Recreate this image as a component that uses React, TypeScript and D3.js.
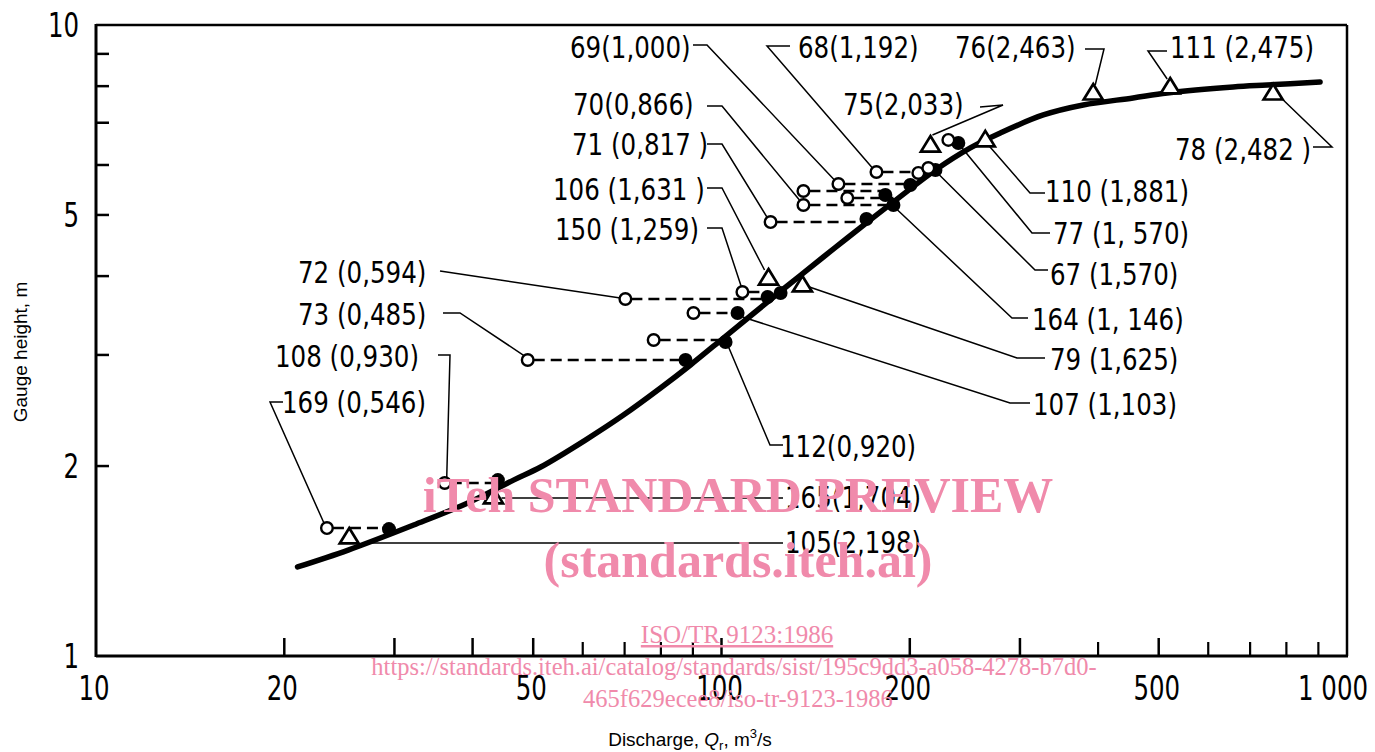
import React from "react"
import * as d3 from "d3"

// Stage–discharge relation (log–log)
const curveQ = [21.0, 25.3, 32.2, 39.3, 46.5, 51.4, 60.6, 69.7, 79.9, 89.2, 100.7, 111.2, 125.6, 145.5, 158.9, 188.3, 219.8, 249.9, 279.1, 326.9, 378.7, 455.0, 515.9, 657.6, 745.2, 905.6]
const curveH = [1.384, 1.472, 1.613, 1.748, 1.900, 1.993, 2.199, 2.409, 2.659, 2.892, 3.191, 3.458, 3.816, 4.289, 4.597, 5.243, 5.891, 6.386, 6.744, 7.201, 7.468, 7.662, 7.803, 7.976, 8.035, 8.123]

// open circles
const openQ = [23.4, 36.1, 49.0, 77.9, 90.2, 70.2, 108.0, 119.8, 135.2, 135.2, 153.8, 158.9, 176.9, 206.4, 214.1, 230.5]
const openH = [1.595, 1.880, 2.945, 3.168, 3.496, 3.679, 3.774, 4.872, 5.185, 5.457, 5.598, 5.319, 5.848, 5.828, 5.934, 6.575]

// filled circles
const filledQ = [29.4, 43.9, 87.6, 101.5, 106.1, 118.5, 124.3, 170.5, 188.3, 182.8, 200.4, 219.8, 239.1]
const filledH = [1.589, 1.900, 2.945, 3.145, 3.496, 3.707, 3.760, 4.926, 5.185, 5.378, 5.578, 5.891, 6.502]

// open triangles
const triQ = [25.4, 43.2, 118.9, 134.7, 215.8, 264.1, 392.9, 521.6, 761.9]
const triH = [1.544, 1.787, 3.972, 3.873, 6.453, 6.575, 7.803, 7.976, 7.803]

// dashed links: [open index, filled index]
const dashPairs = [[0, 0], [1, 1], [2, 2], [3, 3], [4, 4], [5, 5], [6, 5], [7, 7], [8, 8], [9, 9], [10, 10], [11, 8], [12, 11]]

const xTickMajor = [20, 30, 40, 50, 100, 200, 300, 500]
const xTickMinor = [60, 70, 80, 90, 400, 600, 700, 800, 900]
const xTickLabels = [10, 20, 50, 100, 200, 500, 1000]
const yTicks = [2, 3, 4, 5, 6, 7, 8, 9]
const yTickLabels = [1, 2, 5, 10]

// annotation layout: label text, text anchor point, leader elbow points, target marker
const labels = [
  { text: "69(1,000)", x: 570, y: 58, pts: [[693, 45], [707, 45]], kind: "open", i: 10, dx: -4, dy: -4 },
  { text: "68(1,192)", x: 798, y: 58, pts: [[790, 46], [767, 46]], kind: "open", i: 12, dx: -4, dy: -4 },
  { text: "76(2,463)", x: 955, y: 58, pts: [[1085, 49], [1104, 49]], kind: "tri", i: 6, dx: 2, dy: -8 },
  { text: "111 (2,475)", x: 1170, y: 58, pts: [[1167, 51], [1148, 51]], kind: "tri", i: 7, dx: -3, dy: -8 },
  { text: "70(0,866)", x: 573, y: 115, pts: [[707, 106], [722, 106]], kind: "open", i: 8, dx: -4, dy: -5 },
  { text: "75(2,033)", x: 843, y: 115, pts: [[980, 107], [1003, 105]], kind: "tri", i: 4, dx: 2, dy: -10 },
  { text: "71 (0,817 )", x: 572, y: 155, pts: [[707, 144], [722, 144]], kind: "open", i: 7, dx: -3, dy: -4 },
  { text: "78 (2,482 )", x: 1175, y: 160, pts: [[1313, 147], [1332, 147]], kind: "tri", i: 8, dx: 7, dy: 4 },
  { text: "106 (1,631 )", x: 553, y: 200, pts: [[707, 188], [722, 188]], kind: "tri", i: 2, dx: -4, dy: -8 },
  { text: "110 (1,881)", x: 1045, y: 202, pts: [[1045, 193], [1030, 193]], kind: "tri", i: 5, dx: 3, dy: 5 },
  { text: "150 (1,259)", x: 555, y: 240, pts: [[707, 228], [722, 228]], kind: "open", i: 6, dx: -1, dy: -5 },
  { text: "77 (1, 570)", x: 1053, y: 244, pts: [[1050, 233], [1032, 233]], kind: "filled", i: 12, dx: 3, dy: 4 },
  { text: "67 (1,570)", x: 1050, y: 285, pts: [[1048, 270], [1035, 270]], kind: "filled", i: 11, dx: 3, dy: 4 },
  { text: "72 (0,594)", x: 298, y: 283, pts: [[440, 271]], kind: "open", i: 5, dx: -5, dy: -1 },
  { text: "164 (1, 146)", x: 1032, y: 330, pts: [[1028, 318], [1012, 318]], kind: "filled", i: 8, dx: 2, dy: 3 },
  { text: "73 (0,485)", x: 298, y: 325, pts: [[443, 313], [460, 313]], kind: "open", i: 2, dx: -3, dy: -4 },
  { text: "79 (1,625)", x: 1050, y: 370, pts: [[1045, 358], [1017, 358]], kind: "tri", i: 3, dx: 7, dy: 2 },
  { text: "108 (0,930)", x: 275, y: 367, pts: [[438, 355], [450, 355]], kind: "open", i: 1, dx: 2, dy: -5 },
  { text: "107 (1,103)", x: 1033, y: 415, pts: [[1030, 403], [1010, 403]], kind: "filled", i: 4, dx: 5, dy: 4 },
  { text: "169 (0,546)", x: 282, y: 413, pts: [[283, 402], [270, 402]], kind: "open", i: 0, dx: -3, dy: -5 },
  { text: "112(0,920)", x: 780, y: 457, pts: [[783, 445], [770, 445]], kind: "filled", i: 3, dx: 3, dy: 5 },
  { text: "165(1,704)", x: 785, y: 508, pts: [[783, 498]], kind: "tri", i: 1, dx: 8, dy: 1 },
  { text: "105(2,198)", x: 785, y: 553, pts: [[783, 543]], kind: "tri", i: 0, dx: 15, dy: 6 },
]

const NARROW = "'DejaVu Sans Condensed', 'DejaVu Sans', sans-serif"
const PINK = "#f08aab"
const SQUEEZE = 0.88

export default function App() {
  const x = d3.scaleLog().domain([10, 1000]).range([96, 1347])
  const y = d3.scaleLog().domain([1, 10]).range([656, 25])

  const curvePath = d3.line<number>()
    .x((_, i) => x(curveQ[i]))
    .y((_, i) => y(curveH[i]))
    .curve(d3.curveCatmullRom.alpha(0.5))(curveQ)

  const markerPos = (kind: string, i: number) => {
    if (kind === "open") return [x(openQ[i]), y(openH[i])]
    if (kind === "filled") return [x(filledQ[i]), y(filledH[i])]
    return [x(triQ[i]), y(triH[i])]
  }

  const tri = (cx: number, cy: number) =>
    `M${cx},${cy - 9} L${cx + 9.5},${cy + 6.5} L${cx - 9.5},${cy + 6.5} Z`

  const [x0, x1] = x.range()
  const [y0, y1] = y.range()

  return (
    <svg width={1375} height={752} style={{ position: "absolute", left: 0, top: 0, background: "#fff" }}>
      {/* frame */}
      <line x1={x0} x2={x1} y1={y1} y2={y1} stroke="#000" strokeWidth={2.5} />
      <line x1={x1} x2={x1} y1={y1} y2={y0} stroke="#000" strokeWidth={2.5} />
      <line x1={x0} x2={x1 + 1} y1={y0} y2={y0} stroke="#000" strokeWidth={3} />
      <line x1={x0} x2={x0} y1={y1 - 1} y2={y0 + 1} stroke="#000" strokeWidth={3} />

      {/* ticks */}
      {xTickMajor.map(t => <line key={"xM" + t} x1={x(t)} x2={x(t)} y1={y0} y2={y0 - 18} stroke="#000" strokeWidth={2.5} />)}
      {xTickMinor.map(t => <line key={"xm" + t} x1={x(t)} x2={x(t)} y1={y0} y2={y0 - 14} stroke="#000" strokeWidth={2.2} />)}
      {yTicks.map(t => <line key={"y" + t} x1={x0} x2={x0 + 13} y1={y(t)} y2={y(t)} stroke="#000" strokeWidth={2.5} />)}

      <g fontFamily={NARROW} fontSize={34} fill="#000">
        {xTickLabels.map(t => (
          <text key={"xl" + t} transform={`translate(${x(t) - (t === 1000 ? 14 : 2)},700) scale(0.8,1)`} textAnchor="middle">
            {t === 1000 ? "1 000" : t}
          </text>
        ))}
        {yTickLabels.map(t => (
          <text key={"yl" + t} transform={`translate(79,${y(t) + 12}) scale(0.8,1)`} textAnchor="end">{t}</text>
        ))}
      </g>

      {/* axis titles */}
      <text x={690} y={746} textAnchor="middle" fontFamily="'Liberation Sans', Arial, sans-serif" fontSize={19}>
        Discharge, <tspan fontStyle="italic">Q</tspan><tspan fontSize={13} dy={4}>r</tspan>
        <tspan dy={-4}>, m</tspan><tspan fontSize={13} dy={-8}>3</tspan><tspan dy={8}>/s</tspan>
      </text>
      <text transform="translate(27,352) rotate(-90)" textAnchor="middle" fontFamily="'Liberation Sans', Arial, sans-serif" fontSize={19}>
        Gauge height, m
      </text>

      {/* rating curve */}
      <path d={curvePath ?? ""} fill="none" stroke="#000" strokeWidth={5.5} strokeLinecap="round" />

      {/* leader lines */}
      {labels.map((l, k) => {
        const [mx, my] = markerPos(l.kind, l.i)
        const pts = [...l.pts, [mx + l.dx, my + l.dy]]
        return <polyline key={"ld" + k} points={pts.map(p => p.join(",")).join(" ")} fill="none" stroke="#000" strokeWidth={1.5} />
      })}

      {/* dashed links */}
      {dashPairs.map(([o, f], k) => (
        <line key={"ds" + k} x1={x(openQ[o]) + 6} x2={x(filledQ[f])} y1={y(openH[o])} y2={y(openH[o])}
          stroke="#000" strokeWidth={2.6} strokeDasharray="11,6" />
      ))}

      {/* markers */}
      {filledQ.map((q, i) => <circle key={"f" + i} cx={x(q)} cy={y(filledH[i])} r={7} fill="#000" />)}
      {openQ.map((q, i) => <circle key={"o" + i} cx={x(q)} cy={y(openH[i])} r={5.8} fill="#fff" stroke="#000" strokeWidth={2.4} />)}
      {triQ.map((q, i) => <path key={"t" + i} d={tri(x(q), y(triH[i]))} fill="#fff" stroke="#000" strokeWidth={2.7} strokeLinejoin="miter" />)}

      {/* labels */}
      <g fontFamily={NARROW} fontSize={31} fill="#000">
        {labels.map((l, k) => (
          <text key={"lb" + k} transform={`translate(${l.x},${l.y}) scale(${SQUEEZE},1)`}>{l.text}</text>
        ))}
      </g>

      {/* watermark */}
      <g fill={PINK} fontFamily="'Liberation Serif', 'Times New Roman', serif" textAnchor="middle">
        <text x={738} y={512} fontSize={50} fontWeight="bold">iTeh STANDARD PREVIEW</text>
        <text x={738} y={577} fontSize={50} fontWeight="bold">(standards.iteh.ai)</text>
        <text x={737} y={643} fontSize={25} textDecoration="underline">ISO/TR 9123:1986</text>
        <text x={734} y={675} fontSize={24.5}>https://standards.iteh.ai/catalog/standards/sist/195c9dd3-a058-4278-b7d0-</text>
        <text x={738} y={707} fontSize={24.5}>465f629ecee8/iso-tr-9123-1986</text>
      </g>
    </svg>
  )
}
